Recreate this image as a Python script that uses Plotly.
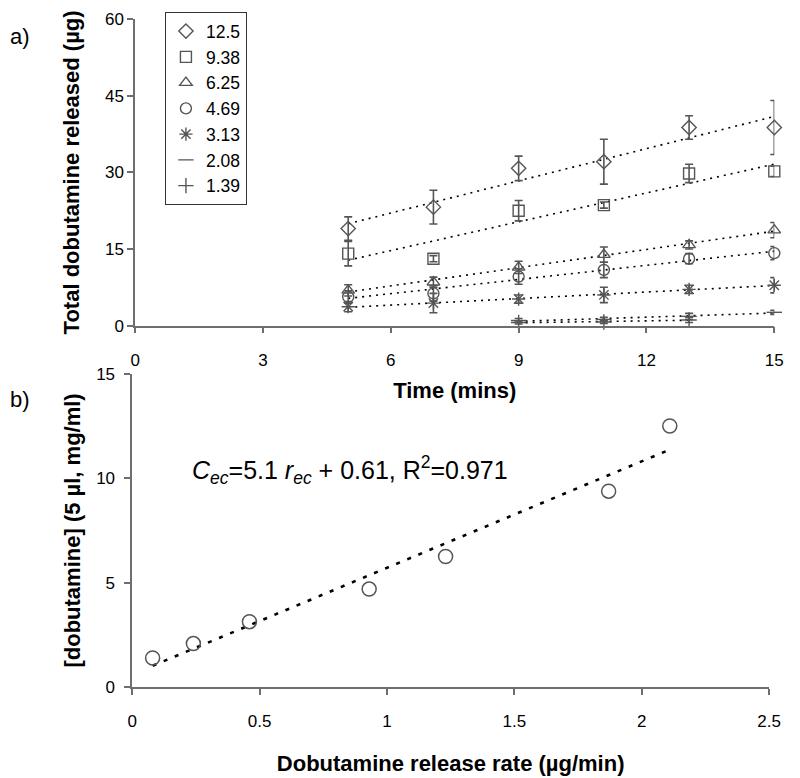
import numpy as np
import plotly.graph_objects as go

# ---------------- Panel a data ----------------
series_names = ["12.5", "9.38", "6.25", "4.69", "3.13", "2.08", "1.39"]
series_symbols = ["diamond-open", "square-open", "triangle-up-open", "circle-open",
                  "asterisk-open", "line-ew-open", "cross-thin-open"]

time_full = [5, 7, 9, 11, 13, 15]
time_208 = [9, 11, 13, 15]
time_139 = [9, 11, 13]

y_125 = [19.0, 23.2, 30.8, 32.1, 38.8, 38.8]
e_125 = [2.3, 3.3, 2.4, 4.4, 2.3, 5.3]
y_938 = [14.1, 13.1, 22.5, 23.6, 29.8, 30.2]
e_938 = [2.4, 0.6, 2.0, 0.6, 1.8, 1.0]
y_625 = [6.9, 8.5, 11.4, 13.9, 15.8, 18.7]
e_625 = [1.1, 1.0, 1.2, 1.5, 0.8, 1.5]
y_469 = [5.6, 6.3, 9.6, 10.9, 13.1, 14.2]
e_469 = [1.2, 1.5, 1.5, 1.5, 1.0, 1.3]
y_313 = [3.7, 4.4, 5.2, 6.0, 7.1, 7.9]
e_313 = [1.0, 1.9, 0.8, 1.5, 0.8, 1.5]
y_208 = [1.0, 1.2, 1.8, 2.6]
e_208 = [0.4, 0.4, 0.6, 0.4]
y_139 = [0.6, 0.7, 1.1]
e_139 = [0.3, 0.3, 0.5]

series_x = [time_full, time_full, time_full, time_full, time_full, time_208, time_139]
series_y = [y_125, y_938, y_625, y_469, y_313, y_208, y_139]
series_e = [e_125, e_938, e_625, e_469, e_313, e_208, e_139]

x_ticks_a = [0, 3, 6, 9, 12, 15]
y_ticks_a = [0, 15, 30, 45, 60]

# ---------------- Panel b data ----------------
release_rate = [0.08, 0.24, 0.46, 0.93, 1.23, 1.87, 2.11]
concentration = [1.39, 2.08, 3.13, 4.69, 6.25, 9.38, 12.5]
fit_slope = 5.1
fit_intercept = 0.61
x_ticks_b = [0, 0.5, 1, 1.5, 2, 2.5]
y_ticks_b = [0, 5, 10, 15]

FONT = "Liberation Sans, Arial, sans-serif"
MARK = "#555555"
AXC = "#6e6e6e"

fig = go.Figure()

# trendlines (panel a)
for xs, ys in zip(series_x, series_y):
    k, b = np.polyfit(xs, ys, 1)
    xl = [min(xs), max(xs)]
    fig.add_trace(go.Scatter(
        x=xl, y=[k * v + b for v in xl], mode="lines",
        line=dict(color="black", width=1.6, dash="2px,5px"),
        showlegend=False, hoverinfo="skip", xaxis="x", yaxis="y", cliponaxis=False))

# data points (panel a)
for name, sym, xs, ys, es in zip(series_names, series_symbols, series_x, series_y, series_e):
    fig.add_trace(go.Scatter(
        x=xs, y=ys, mode="markers", name=name,
        marker=dict(symbol=sym, size=11, color=MARK, line=dict(color=MARK, width=1.4)),
        error_y=dict(type="data", array=es, visible=True, color=MARK, thickness=1.6, width=4),
        xaxis="x", yaxis="y", cliponaxis=False))

# panel b
xl = [min(release_rate), max(release_rate)]
fig.add_trace(go.Scatter(
    x=xl, y=[fit_slope * v + fit_intercept for v in xl], mode="lines",
    line=dict(color="black", width=2.6, dash="4px,8px"),
    showlegend=False, hoverinfo="skip", xaxis="x2", yaxis="y2"))
fig.add_trace(go.Scatter(
    x=release_rate, y=concentration, mode="markers", showlegend=False,
    marker=dict(symbol="circle-open", size=14, color=MARK, line=dict(color=MARK, width=1.5)),
    xaxis="x2", yaxis="y2", cliponaxis=False))

axis_common = dict(showline=True, linecolor=AXC, linewidth=1.5, ticks="outside",
                   tickcolor=AXC, tickwidth=1.5, ticklen=6, showgrid=False,
                   zeroline=False, ticklabeloverflow="allow",
                   tickfont=dict(size=17, color="black", family=FONT))

fig.update_layout(
    width=800, height=778,
    margin=dict(l=0, r=0, t=0, b=0),
    paper_bgcolor="white", plot_bgcolor="white",
    font=dict(family=FONT, color="black"),
    xaxis=dict(domain=[0.16625, 0.9825], range=[0, 15], tickvals=x_ticks_a, anchor="y",
               ticklabelstandoff=12,
               title=dict(text="<b>Time (mins)</b>", font=dict(size=22), standoff=14),
               **axis_common),
    yaxis=dict(domain=[0.5829, 0.9865], range=[0, 60], tickvals=y_ticks_a, anchor="x",
               title=dict(text="<b>Total dobutamine released (µg)</b>", font=dict(size=22), standoff=19),
               **axis_common),
    xaxis2=dict(domain=[0.1625, 0.9759], range=[0, 2.5], tickvals=x_ticks_b, anchor="y2",
                ticklabelstandoff=12,
                title=dict(text="<b>Dobutamine release rate (µg/min)</b>", font=dict(size=22), standoff=25),
                **axis_common),
    yaxis2=dict(domain=[0.1067, 0.5193], range=[0, 15], tickvals=y_ticks_b, anchor="x2",
                ticklabelstandoff=6,
                title=dict(text="<b>[dobutamine] (5 µl, mg/ml)</b>", font=dict(size=22), standoff=9),
                **axis_common),
    legend=dict(x=0.204, y=0.996, xanchor="left", yanchor="top",
                bordercolor="#333", borderwidth=1.2, bgcolor="white",
                font=dict(size=17.5, family=FONT), itemwidth=30, tracegroupgap=0),
    annotations=[
        dict(text="a)", x=0.004, y=0.964, xref="paper", yref="paper", showarrow=False,
             xanchor="left", yanchor="middle", font=dict(size=22)),
        dict(text="b)", x=0.004, y=0.486, xref="paper", yref="paper", showarrow=False,
             xanchor="left", yanchor="middle", font=dict(size=22)),
        dict(text="<i>C</i><sub><i>ec</i></sub>=5.1 <i>r</i><sub><i>ec</i></sub> + 0.61, R<sup>2</sup>=0.971",
             x=0.227, xref="x2", y=10.4, yref="y2", showarrow=False, xanchor="left",
             yanchor="middle", font=dict(size=25)),
    ],
)

fig.write_html("out.html", config={"displayModeBar": False},
               post_script="document.body.style.margin='0px';")
